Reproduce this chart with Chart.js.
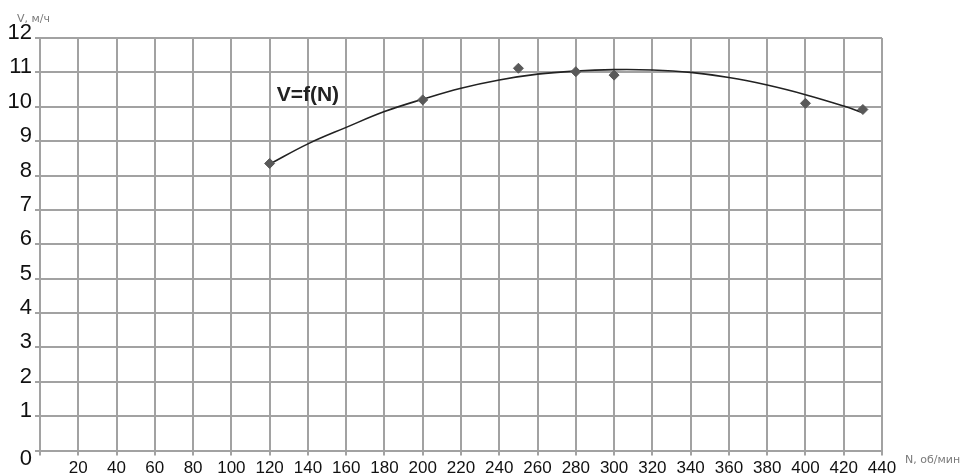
<!DOCTYPE html>
<html>
<head>
<meta charset="utf-8">
<script src="https://cdn.jsdelivr.net/npm/chart.js@4/dist/chart.umd.min.js"></script>
<style>
html,body{margin:0;padding:0;background:#fff;overflow:hidden;}
#wrap{width:974px;height:475px;}
canvas{display:block;}
</style>
</head>
<body>
<div id="wrap"><canvas id="c" width="974" height="475"></canvas></div>
<script>
// ---- data ----
const xTickValues = [0,20,40,60,80,100,120,140,160,180,200,220,240,260,280,300,320,340,360,380,400,420,440];
const yTickValues = [0,1,2,3,4,5,6,7,8,9,10,11,12];
const pointN = [120, 200, 250, 280, 300, 400, 430];
const pointV = [8.35, 10.2, 11.12, 11.02, 10.92, 10.1, 9.92];
const trendN = [120, 140, 160, 180, 200, 220, 240, 260, 280, 300, 320, 340, 360, 380, 400, 420, 430];
const trendV = [8.33, 8.92, 9.40, 9.86, 10.22, 10.54, 10.78, 10.95, 11.04, 11.08, 11.07, 11.0, 10.85, 10.63, 10.35, 10.02, 9.83];
const curveLabel = 'V=f(N)';
const xTitle = 'N, об/мин';
const yTitle = 'V, м/ч';

const GRID = '#a2a2a2';

const textPlugin = {
  id: 'texts',
  afterDatasetsDraw(chart) {
    const {ctx, chartArea: a, scales: {x, y}} = chart;
    ctx.save();
    ctx.fillStyle = '#222';
    ctx.font = 'bold 21px "Liberation Sans", Arial, sans-serif';
    ctx.textAlign = 'center';
    ctx.textBaseline = 'middle';
    ctx.fillText(curveLabel, x.getPixelForValue(140), y.getPixelForValue(10.35));
    ctx.font = '11px "DejaVu Sans", sans-serif';
    ctx.fillStyle = '#7a7a7a';
    ctx.textAlign = 'left';
    ctx.fillText(yTitle, a.left - 23, a.top - 19);
    ctx.fillText(xTitle, a.right + 23, a.bottom + 10);
    ctx.restore();
  }
};

new Chart(document.getElementById('c'), {
  type: 'scatter',
  data: {
    datasets: [
      {
        label: 'trend',
        data: trendN.map((n, i) => ({x: n, y: trendV[i]})),
        showLine: true,
        borderColor: '#222',
        borderWidth: 1.6,
        pointRadius: 0,
        tension: 0.4,
        fill: false,
        order: 2
      },
      {
        label: 'V',
        data: pointN.map((n, i) => ({x: n, y: pointV[i]})),
        showLine: false,
        pointStyle: 'rectRot',
        pointRadius: 5,
        backgroundColor: '#595959',
        borderColor: '#595959',
        borderWidth: 1,
        order: 1
      }
    ]
  },
  options: {
    responsive: false,
    animation: false,
    layout: {padding: {left: 0, top: 38, right: 92, bottom: 0}},
    plugins: {legend: {display: false}, tooltip: {enabled: false}},
    scales: {
      x: {
        type: 'linear',
        min: 0, max: 440,
        afterBuildTicks: s => { s.ticks = xTickValues.map(v => ({value: v})); },
        afterFit: s => { s.height = 24.5; s.paddingLeft = 0; },
        grid: {color: GRID, lineWidth: 2, tickLength: 5, tickColor: GRID},
        border: {color: GRID, width: 2},
        ticks: {
          autoSkip: false, maxRotation: 0, minRotation: 0,
          padding: 3,
          color: '#111',
          font: {family: '"Liberation Sans", Arial, sans-serif', size: 17},
          callback: v => v === 0 ? '' : String(v)
        }
      },
      y: {
        type: 'linear',
        min: 0, max: 12,
        afterBuildTicks: s => { s.ticks = yTickValues.map(v => ({value: v})); },
        afterFit: s => { s.width = 40; s.paddingTop = 0; s.paddingBottom = 0; },
        grid: {color: GRID, lineWidth: 2, tickLength: 5, tickColor: GRID},
        border: {color: GRID, width: 2},
        ticks: {
          autoSkip: false,
          padding: 3,
          labelOffset: -5,
          color: '#111',
          font: {family: '"Liberation Sans", Arial, sans-serif', size: 22},
          callback: v => v === 0 ? ['', '0'] : String(v)
        }
      }
    }
  },
  plugins: [textPlugin]
});
</script>
</body>
</html>
